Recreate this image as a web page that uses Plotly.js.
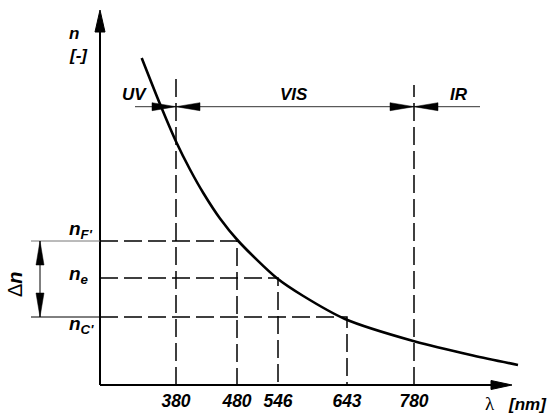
<!DOCTYPE html>
<html>
<head>
<meta charset="utf-8">
<script src="https://cdn.plot.ly/plotly-3.0.1.min.js"></script>
<style>html,body{margin:0;padding:0;background:#fff;}#chart{width:551px;height:414px;}</style>
</head>
<body>
<div id="chart"></div>
<script>
// ---- data (schematic units) ----
const wlLabels = ['380', '480', '546', '643', '780'];
const wlPos = [76, 137, 178, 247, 314];            // position of each wavelength on the λ axis
const regionLabels = ['UV', 'VIS', 'IR'];
const regionBoundWl = ['380', '780'];
const regionBoundTop = [307, 300];                 // top of the boundary dashed lines
const nLabels = ["n<sub>F'</sub>", "n<sub>e</sub>", "n<sub>C'</sub>"];
const nWl = ['480', '546', '643'];
const nVals = [144, 107, 68];                       // refractive index levels (schematic)
const curveX = [41.7, 61, 76.7, 90, 103.3, 120, 138.3, 176.7, 203.3, 245, 315, 373, 418];
const curveY = [327, 278.5, 242, 215.5, 192, 166.5, 144, 107, 89, 66, 43.5, 29.5, 20];

const FONT = 'Liberation Sans, Arial, sans-serif';
const posOf = w => wlPos[wlLabels.indexOf(w)];

const traces = [];
const dash = '18px,6px';
// boundary dashed verticals
regionBoundWl.forEach((w, i) => {
  traces.push({x: [posOf(w), posOf(w)], y: [0, regionBoundTop[i]], mode: 'lines',
    line: {color: '#000', width: 1.5, dash: dash}, hoverinfo: 'skip'});
});
// level guide lines
nWl.forEach((w, i) => {
  const xp = posOf(w);
  traces.push({x: [0, xp, xp], y: [nVals[i], nVals[i], 0], mode: 'lines',
    line: {color: '#000', width: 1.5, dash: dash}, hoverinfo: 'skip'});
});
// dispersion curve
traces.push({x: curveX, y: curveY, mode: 'lines',
  line: {color: '#000', width: 2.6, shape: 'spline', smoothing: 0.8}, hoverinfo: 'skip'});

const shapes = [];
// axes
shapes.push({type: 'line', x0: 0, y0: 0, x1: 0, y1: 360, line: {color: '#000', width: 2}});
shapes.push({type: 'path', path: 'M 0,375 L -5,353 L 5,353 Z', fillcolor: '#000', line: {color: '#000', width: 1}});
shapes.push({type: 'line', x0: 0, y0: 0, x1: 395, y1: 0, line: {color: '#000', width: 2}});
shapes.push({type: 'path', path: 'M 412,0 L 391,4.5 L 391,-4.5 Z', fillcolor: '#000', line: {color: '#000', width: 1}});
// region arrow line
const yR = 278.3;
shapes.push({type: 'line', x0: 35, y0: yR, x1: 380, y1: yR, line: {color: '#333', width: 1}});
regionBoundWl.forEach(w => {
  const xp = posOf(w);
  shapes.push({type: 'path', path: `M ${xp},${yR} L ${xp - 24},${yR + 4} L ${xp - 24},${yR - 4} Z`, fillcolor: '#000', line: {color: '#000', width: 0.5}});
  shapes.push({type: 'path', path: `M ${xp},${yR} L ${xp + 24},${yR + 4} L ${xp + 24},${yR - 4} Z`, fillcolor: '#000', line: {color: '#000', width: 0.5}});
});
// Δn extension lines and double arrow
shapes.push({type: 'line', x0: -69, y0: nVals[0], x1: 0, y1: nVals[0], line: {color: '#777', width: 1}});
shapes.push({type: 'line', x0: -69, y0: nVals[2], x1: 0, y1: nVals[2], line: {color: '#000', width: 1}});
shapes.push({type: 'line', x0: -60, y0: nVals[0], x1: -60, y1: nVals[2], line: {color: '#000', width: 1}});
shapes.push({type: 'path', path: `M -60,${nVals[0]} L -64,${nVals[0] - 24} L -56,${nVals[0] - 24} Z`, fillcolor: '#000', line: {color: '#000', width: 0.5}});
shapes.push({type: 'path', path: `M -60,${nVals[2]} L -64,${nVals[2] + 24} L -56,${nVals[2] + 24} Z`, fillcolor: '#000', line: {color: '#000', width: 0.5}});

const bi = (size) => ({family: FONT, size: size, color: '#000', weight: 'bold', style: 'italic'});
const annotations = [];
annotations.push({x: -33, y: 352, xanchor: 'left', yanchor: 'middle', text: 'n', showarrow: false, font: bi(17)});
annotations.push({x: -33, y: 330, xanchor: 'left', yanchor: 'middle', text: '[-]', showarrow: false, font: bi(17)});
// region labels
const regionX = [34.5, 194, 359];
regionLabels.forEach((t, i) => annotations.push({x: regionX[i], y: 290.5, text: t, showarrow: false, font: bi(17)}));
// n level labels
const nLabY = [155, 110, 60];
nLabels.forEach((t, i) => annotations.push({x: -33, y: nLabY[i], xanchor: 'left', yanchor: 'middle', text: t, showarrow: false, font: bi(19)}));
// Δn
annotations.push({x: -85, y: 101, text: 'Δ<b><i>n</i></b>', textangle: -90, showarrow: false,
  font: {family: FONT, size: 20, color: '#000'}});
// λ [nm]
annotations.push({x: 390, y: -18.5, text: 'λ', showarrow: false, font: {family: 'Liberation Serif, serif', size: 19, color: '#000'}});
annotations.push({x: 427, y: -19.5, text: '[nm]', showarrow: false, font: bi(17)});

const layout = {
  width: 551, height: 414,
  margin: {l: 0, r: 0, t: 0, b: 0},
  paper_bgcolor: '#fff', plot_bgcolor: '#fff',
  showlegend: false, hovermode: false,
  xaxis: {range: [-100, 451], anchor: 'free', position: 29 / 414, showline: false, showgrid: false, zeroline: false,
    ticks: '', ticklabelstandoff: 3, tickvals: wlPos, ticktext: wlLabels, tickfont: bi(17.5), fixedrange: true},
  yaxis: {range: [-29, 385], visible: false, fixedrange: true},
  shapes: shapes, annotations: annotations
};
Plotly.newPlot('chart', traces, layout, {displayModeBar: false, staticPlot: true});
</script>
</body>
</html>
